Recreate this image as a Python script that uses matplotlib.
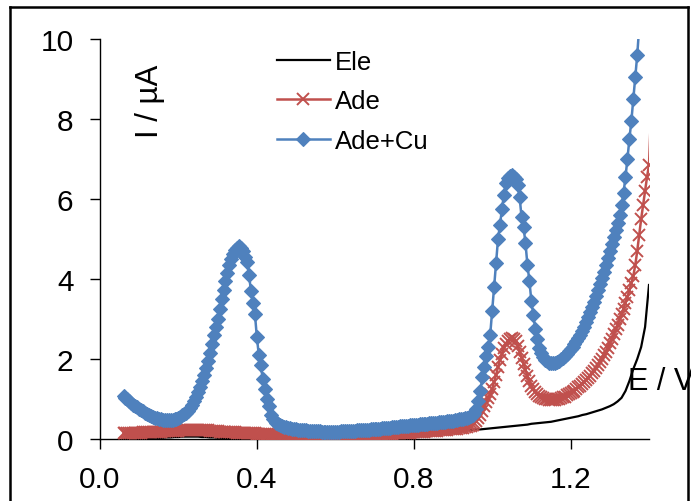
import numpy as np
import matplotlib
matplotlib.use("Agg")
import matplotlib.pyplot as plt
from matplotlib.lines import Line2D

plt.rcParams['font.family'] = ['Liberation Sans', 'DejaVu Sans']

# potential scan, 5 mV step starting at 0.06 V
E = np.round(0.06 + 0.005 * np.arange(270), 3)

# Ade+Cu current (uA), 0.06 .. 1.375 V
ade_cu = [
    1.08, 1.03, 0.99, 0.94, 0.90, 0.86, 0.83, 0.79, 0.76, 0.72,
    0.69, 0.65, 0.62, 0.59, 0.57, 0.55, 0.53, 0.515, 0.50, 0.49,
    0.48, 0.475, 0.47, 0.47, 0.475, 0.48, 0.49, 0.51, 0.53, 0.56,
    0.59, 0.62, 0.66, 0.71, 0.77, 0.85, 0.95, 1.06, 1.18, 1.31,
    1.45, 1.61, 1.78, 1.96, 2.15, 2.37, 2.6, 2.8, 3.0, 3.25,
    3.5, 3.73, 3.95, 4.15, 4.35, 4.5, 4.63, 4.72, 4.78, 4.82,
    4.78, 4.7, 4.55, 4.42, 4.1, 3.7, 3.4, 3.13, 2.55, 2.1,
    1.85, 1.5, 1.25, 1.0, 0.82, 0.6, 0.5, 0.44, 0.4, 0.37,
    0.35, 0.33, 0.31, 0.29, 0.28, 0.27, 0.26, 0.25, 0.24, 0.235,
    0.23, 0.225, 0.22, 0.215, 0.21, 0.205, 0.2, 0.2, 0.195, 0.19,
    0.19, 0.185, 0.185, 0.18, 0.18, 0.18, 0.18, 0.18, 0.18, 0.185,
    0.185, 0.19, 0.19, 0.195, 0.2, 0.2, 0.205, 0.21, 0.21, 0.215,
    0.22, 0.22, 0.225, 0.23, 0.23, 0.235, 0.24, 0.245, 0.25, 0.25,
    0.255, 0.26, 0.265, 0.27, 0.275, 0.28, 0.285, 0.29, 0.3, 0.305,
    0.31, 0.315, 0.32, 0.325, 0.33, 0.335, 0.34, 0.345, 0.35, 0.355,
    0.36, 0.365, 0.37, 0.375, 0.38, 0.385, 0.39, 0.395, 0.4, 0.405,
    0.41, 0.415, 0.42, 0.425, 0.43, 0.44, 0.445, 0.45, 0.46, 0.47,
    0.48, 0.49, 0.5, 0.51, 0.52, 0.535, 0.55, 0.57, 0.6, 0.65,
    0.75, 0.95, 1.2, 1.55, 1.8, 2.08, 2.3, 2.6, 3.2, 3.8,
    4.4, 5.0, 5.35, 5.75, 6.1, 6.4, 6.52, 6.58, 6.6, 6.56,
    6.5, 6.35, 6.05, 5.55, 5.3, 4.9, 4.35, 3.95, 3.45, 3.1,
    2.75, 2.5, 2.28, 2.15, 2.05, 1.98, 1.94, 1.91, 1.9, 1.89,
    1.9, 1.92, 1.95, 1.99, 2.03, 2.08, 2.13, 2.19, 2.25, 2.31,
    2.38, 2.45, 2.52, 2.6, 2.7, 2.8, 2.92, 3.05, 3.18, 3.3,
    3.43, 3.57, 3.72, 3.87, 4.02, 4.18, 4.35, 4.52, 4.7, 4.87,
    5.05, 5.22, 5.4, 5.6, 5.85, 6.15, 6.55, 7.0, 7.5, 7.95,
    8.5, 9.05, 9.6, 10.3,
]

# Ade current (uA), 0.06 .. 1.405 V
ade = [
    0.14, 0.14, 0.145, 0.145, 0.15, 0.15, 0.155, 0.155, 0.16, 0.16,
    0.165, 0.165, 0.17, 0.17, 0.175, 0.175, 0.18, 0.18, 0.185, 0.185,
    0.19, 0.19, 0.195, 0.195, 0.2, 0.2, 0.205, 0.21, 0.21, 0.215,
    0.215, 0.22, 0.22, 0.225, 0.225, 0.23, 0.23, 0.23, 0.23, 0.23,
    0.225, 0.225, 0.22, 0.215, 0.21, 0.205, 0.2, 0.195, 0.19, 0.185,
    0.18, 0.18, 0.175, 0.175, 0.17, 0.17, 0.165, 0.165, 0.16, 0.16,
    0.155, 0.155, 0.15, 0.15, 0.145, 0.145, 0.14, 0.14, 0.135, 0.13,
    0.13, 0.125, 0.12, 0.12, 0.115, 0.11, 0.11, 0.105, 0.1, 0.1,
    0.095, 0.09, 0.09, 0.085, 0.08, 0.08, 0.075, 0.075, 0.07, 0.07,
    0.065, 0.065, 0.06, 0.06, 0.06, 0.055, 0.055, 0.055, 0.05, 0.05,
    0.05, 0.05, 0.05, 0.05, 0.05, 0.055, 0.055, 0.055, 0.06, 0.06,
    0.06, 0.065, 0.065, 0.07, 0.07, 0.075, 0.075, 0.08, 0.08, 0.085,
    0.085, 0.09, 0.09, 0.095, 0.1, 0.1, 0.105, 0.105, 0.11, 0.11,
    0.115, 0.12, 0.12, 0.125, 0.125, 0.13, 0.13, 0.135, 0.14, 0.14,
    0.145, 0.145, 0.15, 0.15, 0.155, 0.16, 0.16, 0.165, 0.17, 0.17,
    0.175, 0.18, 0.18, 0.185, 0.19, 0.19, 0.195, 0.2, 0.2, 0.205,
    0.21, 0.215, 0.22, 0.225, 0.23, 0.235, 0.24, 0.245, 0.25, 0.255,
    0.26, 0.265, 0.275, 0.285, 0.295, 0.305, 0.32, 0.335, 0.36, 0.39,
    0.45, 0.52, 0.6, 0.7, 0.82, 0.93, 1.03, 1.12, 1.25, 1.42,
    1.6, 1.8, 1.98, 2.13, 2.27, 2.38, 2.46, 2.51, 2.53, 2.51,
    2.45, 2.33, 2.18, 2.03, 1.88, 1.73, 1.58, 1.45, 1.33, 1.24,
    1.17, 1.12, 1.08, 1.05, 1.02, 1.0, 0.99, 0.98, 0.97, 0.97,
    0.98, 0.99, 1.0, 1.02, 1.04, 1.06, 1.09, 1.12, 1.15, 1.18,
    1.21, 1.25, 1.29, 1.33, 1.37, 1.42, 1.47, 1.52, 1.58, 1.64,
    1.7, 1.77, 1.84, 1.92, 2.0, 2.09, 2.18, 2.28, 2.39, 2.5,
    2.62, 2.74, 2.86, 2.99, 3.12, 3.26, 3.4, 3.56, 3.72, 3.9,
    4.08, 4.35, 4.7, 5.1, 5.5, 5.85, 6.2, 6.55, 6.85, 8.1,
]

# bare electrode current (uA), 0.06 .. 1.40 V, 10 mV step
ele = [
    0.0, 0.0, 0.01, 0.01, 0.01, 0.02, 0.02, 0.02, 0.03, 0.03,
    0.03, 0.04, 0.04, 0.05, 0.05, 0.06, 0.06, 0.06, 0.06, 0.06,
    0.05, 0.05, 0.04, 0.04, 0.03, 0.03, 0.02, 0.02, 0.02, 0.01,
    0.01, 0.01, 0.01, 0.01, 0.01, 0.01, 0.01, 0.01, 0.01, 0.01,
    0.01, 0.01, 0.01, 0.01, 0.01, 0.01, 0.02, 0.02, 0.02, 0.02,
    0.02, 0.03, 0.03, 0.03, 0.04, 0.04, 0.04, 0.05, 0.05, 0.06,
    0.06, 0.07, 0.07, 0.08, 0.08, 0.09, 0.09, 0.1, 0.1, 0.11,
    0.11, 0.12, 0.12, 0.13, 0.13, 0.14, 0.14, 0.15, 0.16, 0.16,
    0.17, 0.17, 0.18, 0.19, 0.19, 0.2, 0.21, 0.21, 0.22, 0.23,
    0.24, 0.24, 0.25, 0.26, 0.27, 0.28, 0.29, 0.3, 0.31, 0.32,
    0.33, 0.34, 0.35, 0.36, 0.38, 0.39, 0.4, 0.41, 0.42, 0.43,
    0.45, 0.47, 0.49, 0.51, 0.53, 0.55, 0.57, 0.6, 0.62, 0.65,
    0.68, 0.71, 0.74, 0.78, 0.82, 0.87, 0.94, 1.03, 1.2, 1.45,
    1.75, 2.0, 2.3, 2.8, 3.85,
]

RED = '#C0504D'
BLUE = '#4F81BD'

fig = plt.figure(figsize=(6.91, 5.02), dpi=100)
ax = fig.add_axes([100 / 691, 62 / 502, 549 / 691, 400 / 502])

ax.plot(E[::2][:len(ele)], ele, color='black', lw=1.6, label='Ele', zorder=2)
ax.plot(E[:len(ade)], ade, color=RED, lw=1.8, marker='x', ms=8, mew=1.4,
        markevery=slice(0, len(ade) - 1), label='Ade', zorder=3)
ax.plot(E[:len(ade_cu)], ade_cu, color=BLUE, lw=1.8, marker='D', ms=7.5,
        mec=BLUE, mew=0.8, label='Ade+Cu', zorder=4)

ax.set_xlim(0, 1.4)
ax.set_ylim(0, 10)
ax.set_xticks([0.0, 0.4, 0.8, 1.2])
ax.set_xticklabels(['0.0', '0.4', '0.8', '1.2'])
ax.set_yticks([0, 2, 4, 6, 8, 10])
for side in ('top', 'right'):
    ax.spines[side].set_visible(False)
for side in ('left', 'bottom'):
    ax.spines[side].set_linewidth(1.0)
ax.tick_params(direction='out', length=7, width=1.0, labelsize=21.5, pad=12)

fig.text(150 / 691, 1 - 101 / 502, 'I / µA', rotation=90, ha='center', va='center',
         fontsize=22.5)
# axis title sits against the right border of the chart, as in the source
fig.text(628 / 691, 1 - 390 / 502, 'E / V', ha='left', va='baseline', fontsize=22)

leg = ax.legend(loc='upper left', bbox_to_anchor=(277 / 691, 1 - 51 / 502),
                bbox_transform=fig.transFigure, frameon=False, fontsize=18.5,
                handlelength=2.05, handletextpad=0.2, labelspacing=0.6,
                borderpad=0, borderaxespad=0)

# outer chart border (open at the bottom)
lw_border = 1.8
fig.add_artist(Line2D([10 / 691, 10 / 691], [-0.1, 1 - 8 / 502], color='black', lw=lw_border))
fig.add_artist(Line2D([688 / 691, 688 / 691], [-0.1, 1 - 8 / 502], color='black', lw=lw_border))
fig.add_artist(Line2D([10 / 691, 688 / 691], [1 - 8 / 502, 1 - 8 / 502], color='black', lw=lw_border))

fig.savefig('out.png', dpi=100)
